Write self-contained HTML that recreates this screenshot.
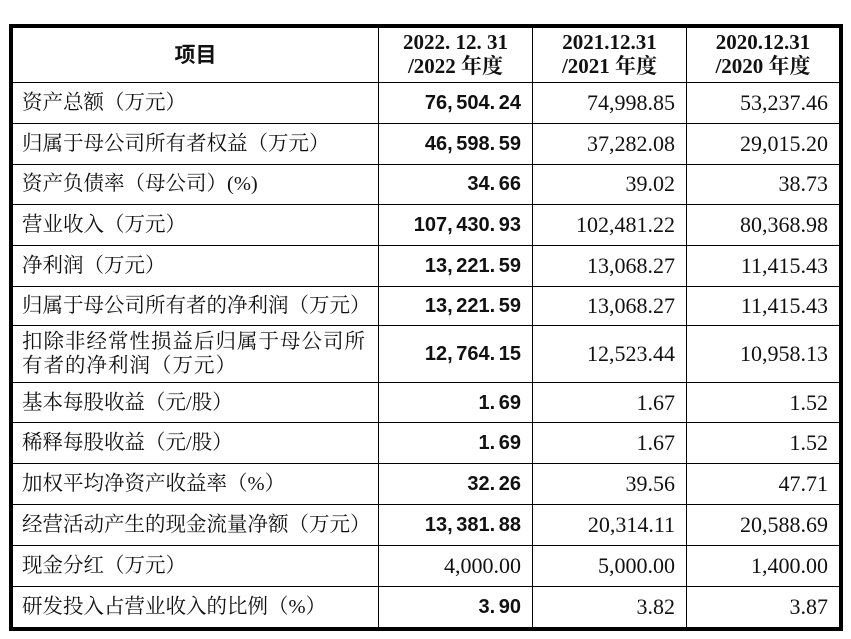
<!DOCTYPE html>
<html><head><meta charset="utf-8"><style>
html,body{margin:0;padding:0;background:#fff;width:851px;height:639px;overflow:hidden}
.b{position:absolute;background:#000}
.t{position:absolute;font-family:"Liberation Serif","Noto Serif CJK SC",serif;font-size:20.5px;color:#111;line-height:24px;white-space:nowrap}
.l{left:22px}
.n{text-align:right;font-family:"Liberation Serif",serif;font-size:22px}
.bn{text-align:right;font-family:"Liberation Sans",sans-serif;font-weight:bold;font-size:20px;letter-spacing:0px;word-spacing:-2px}
.h{font-weight:bold;text-align:center;font-size:21px}
</style></head><body>
<div class="b" style="left:9px;top:24px;width:834px;height:4px"></div>
<div class="b" style="left:9px;top:627px;width:834px;height:4px"></div>
<div class="b" style="left:9px;top:24px;width:4px;height:607px"></div>
<div class="b" style="left:839px;top:24px;width:4px;height:607px"></div>
<div class="b" style="left:378px;top:26px;width:1px;height:603px"></div>
<div class="b" style="left:532px;top:26px;width:1px;height:603px"></div>
<div class="b" style="left:686px;top:26px;width:1px;height:603px"></div>
<div class="b" style="left:11px;top:82px;width:830px;height:1px"></div>
<div class="b" style="left:11px;top:123px;width:830px;height:1px"></div>
<div class="b" style="left:11px;top:164px;width:830px;height:1px"></div>
<div class="b" style="left:11px;top:204px;width:830px;height:1px"></div>
<div class="b" style="left:11px;top:245px;width:830px;height:1px"></div>
<div class="b" style="left:11px;top:286px;width:830px;height:1px"></div>
<div class="b" style="left:11px;top:325px;width:830px;height:1px"></div>
<div class="b" style="left:11px;top:382px;width:830px;height:1px"></div>
<div class="b" style="left:11px;top:422px;width:830px;height:1px"></div>
<div class="b" style="left:11px;top:463px;width:830px;height:1px"></div>
<div class="b" style="left:11px;top:504px;width:830px;height:1px"></div>
<div class="b" style="left:11px;top:545px;width:830px;height:1px"></div>
<div class="b" style="left:11px;top:586px;width:830px;height:1px"></div>

<div class="t h" style="left:13px;width:365px;top:42px;font-family:'Noto Sans CJK SC',sans-serif">项目</div>
<div class="t h" style="left:379px;width:153px;top:30px">2022. 12. 31<br>/2022 年度</div>
<div class="t h" style="left:533px;width:153px;top:30px">2021.12.31<br>/2021 年度</div>
<div class="t h" style="left:687px;width:152px;top:30px">2020.12.31<br>/2020 年度</div>

<div class="t l" style="top:91px">资产总额（万元）</div>
<div class="t l" style="top:132px">归属于母公司所有者权益（万元）</div>
<div class="t l" style="top:172px">资产负债率（母公司）(%)</div>
<div class="t l" style="top:213px">营业收入（万元）</div>
<div class="t l" style="top:254px">净利润（万元）</div>
<div class="t l" style="top:294px">归属于母公司所有者的净利润（万元）</div>
<div class="t l" style="top:330px;letter-spacing:1px">扣除非经常性损益后归属于母公司所<br>有者的净利润（万元）</div>
<div class="t l" style="top:391px">基本每股收益（元/股）</div>
<div class="t l" style="top:431px">稀释每股收益（元/股）</div>
<div class="t l" style="top:472px">加权平均净资产收益率（%）</div>
<div class="t l" style="top:513px">经营活动产生的现金流量净额（万元）</div>
<div class="t l" style="top:554px">现金分红（万元）</div>
<div class="t l" style="top:595px">研发投入占营业收入的比例（%）</div>

<div class="t bn" style="right:330px;top:91px">76, 504. 24</div>
<div class="t bn" style="right:330px;top:132px">46, 598. 59</div>
<div class="t bn" style="right:330px;top:172px">34. 66</div>
<div class="t bn" style="right:330px;top:213px">107, 430. 93</div>
<div class="t bn" style="right:330px;top:254px">13, 221. 59</div>
<div class="t bn" style="right:330px;top:294px">13, 221. 59</div>
<div class="t bn" style="right:330px;top:342px">12, 764. 15</div>
<div class="t bn" style="right:330px;top:391px">1. 69</div>
<div class="t bn" style="right:330px;top:431px">1. 69</div>
<div class="t bn" style="right:330px;top:472px">32. 26</div>
<div class="t bn" style="right:330px;top:513px">13, 381. 88</div>
<div class="t n" style="right:330px;top:554px">4,000.00</div>
<div class="t bn" style="right:330px;top:595px">3. 90</div>

<div class="t n" style="right:176px;top:91px">74,998.85</div>
<div class="t n" style="right:176px;top:132px">37,282.08</div>
<div class="t n" style="right:176px;top:172px">39.02</div>
<div class="t n" style="right:176px;top:213px">102,481.22</div>
<div class="t n" style="right:176px;top:254px">13,068.27</div>
<div class="t n" style="right:176px;top:294px">13,068.27</div>
<div class="t n" style="right:176px;top:342px">12,523.44</div>
<div class="t n" style="right:176px;top:391px">1.67</div>
<div class="t n" style="right:176px;top:431px">1.67</div>
<div class="t n" style="right:176px;top:472px">39.56</div>
<div class="t n" style="right:176px;top:513px">20,314.11</div>
<div class="t n" style="right:176px;top:554px">5,000.00</div>
<div class="t n" style="right:176px;top:595px">3.82</div>

<div class="t n" style="right:23px;top:91px">53,237.46</div>
<div class="t n" style="right:23px;top:132px">29,015.20</div>
<div class="t n" style="right:23px;top:172px">38.73</div>
<div class="t n" style="right:23px;top:213px">80,368.98</div>
<div class="t n" style="right:23px;top:254px">11,415.43</div>
<div class="t n" style="right:23px;top:294px">11,415.43</div>
<div class="t n" style="right:23px;top:342px">10,958.13</div>
<div class="t n" style="right:23px;top:391px">1.52</div>
<div class="t n" style="right:23px;top:431px">1.52</div>
<div class="t n" style="right:23px;top:472px">47.71</div>
<div class="t n" style="right:23px;top:513px">20,588.69</div>
<div class="t n" style="right:23px;top:554px">1,400.00</div>
<div class="t n" style="right:23px;top:595px">3.87</div>
</body></html>
